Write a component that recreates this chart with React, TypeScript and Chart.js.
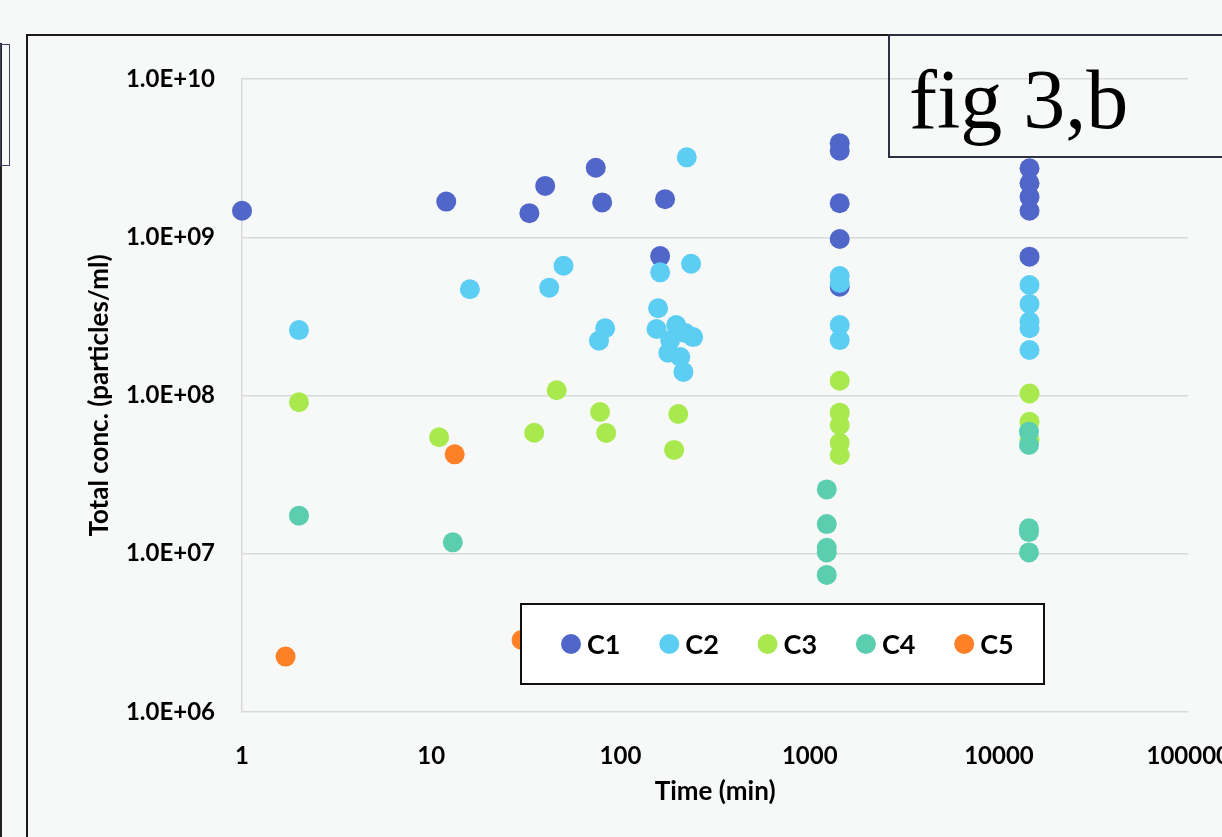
import React, { useEffect, useRef } from "react";
import { Chart, registerables } from "chart.js";

Chart.register(...registerables);

// ---------- data ----------
const seriesNames = ["C1", "C2", "C3", "C4", "C5"];
const seriesColors = ["#5067C9", "#5CCDF3", "#A8E94E", "#5CCEB0", "#FF8026"];

const c1Time = [1, 12, 33, 40, 74, 80, 162, 172, 1440, 1440, 1440, 1440, 1440, 14500, 14500, 14500, 14500, 14500];
const c1Conc = [1.47e9, 1.68e9, 1.42e9, 2.11e9, 2.75e9, 1.66e9, 7.6e8, 1.74e9, 3.93e9, 3.52e9, 1.64e9, 9.75e8, 4.87e8, 2.73e9, 2.19e9, 1.8e9, 1.47e9, 7.54e8];

const c2Time = [2, 16, 42, 50, 77, 83, 155, 158, 162, 179, 183, 197, 207, 215, 220, 224, 236, 242, 1440, 1440, 1440, 1440, 14500, 14500, 14500, 14500, 14500];
const c2Conc = [2.59e8, 4.69e8, 4.8e8, 6.61e8, 2.22e8, 2.66e8, 2.63e8, 3.56e8, 6.0e8, 1.86e8, 2.24e8, 2.79e8, 1.75e8, 1.41e8, 2.48e8, 3.2e9, 6.8e8, 2.34e8, 5.69e8, 5.14e8, 2.79e8, 2.24e8, 4.99e8, 3.79e8, 2.93e8, 2.66e8, 1.94e8];

const c3Time = [2, 11, 35, 46, 78, 84, 192, 202, 1440, 1440, 1440, 1440, 1440, 14500, 14500, 14500];
const c3Conc = [9.06e7, 5.45e7, 5.82e7, 1.08e8, 7.87e7, 5.8e7, 4.53e7, 7.64e7, 1.24e8, 7.79e7, 6.51e7, 5.03e7, 4.21e7, 1.03e8, 6.83e7, 5.24e7];

const c4Time = [2, 13, 1230, 1230, 1230, 1230, 1230, 14400, 14400, 14400, 14400, 14400];
const c4Conc = [1.74e7, 1.18e7, 2.55e7, 1.54e7, 1.09e7, 1.02e7, 7.35e6, 5.91e7, 4.87e7, 1.45e7, 1.37e7, 1.02e7];

const c5Time = [1.7, 13.3, 30];
const c5Conc = [2.24e6, 4.25e7, 2.85e6];

const xTickValues = [1, 10, 100, 1000, 10000, 100000];
const xTickLabels = ["1", "10", "100", "1000", "10000", "100000"];
const yTickValues = [1e6, 1e7, 1e8, 1e9, 1e10];
const yTickLabels = ["1.0E+06", "1.0E+07", "1.0E+08", "1.0E+09", "1.0E+10"];

const xTitle = "Time (min)";
const yTitle = "Total conc. (particles/ml)";
const figLabel = "fig 3,b";

const seriesTimes = [c1Time, c2Time, c3Time, c4Time, c5Time];
const seriesConcs = [c1Conc, c2Conc, c3Conc, c4Conc, c5Conc];

// ---------- legend plugin (box inside plot) ----------
const boxLegendPlugin = {
  id: "boxLegend",
  afterDatasetsDraw(chart: any) {
    const ctx = chart.ctx;
    const left = 521, top = 604, w = 523, h = 80;
    ctx.save();
    ctx.fillStyle = "#ffffff";
    ctx.fillRect(left, top, w, h);
    ctx.strokeStyle = "#111111";
    ctx.lineWidth = 2;
    ctx.strokeRect(left, top, w, h);
    const cy = top + 40;
    ctx.font = "bold 27px Lato";
    ctx.textBaseline = "middle";
    ctx.textAlign = "left";
    seriesNames.forEach((name, i) => {
      const cx = 571 + i * 98.3;
      ctx.beginPath();
      ctx.arc(cx, cy, 10, 0, Math.PI * 2);
      ctx.fillStyle = seriesColors[i];
      ctx.fill();
      ctx.fillStyle = "#000000";
      ctx.fillText(name, cx + 16, cy + 1);
    });
    ctx.restore();
  },
};

export default function App() {
  const canvasRef = useRef<HTMLCanvasElement | null>(null);

  useEffect(() => {
    if (!canvasRef.current) return;
    const datasets = seriesNames.map((name, i) => ({
      label: name,
      data: seriesTimes[i].map((t, j) => ({ x: t, y: seriesConcs[i][j] })),
      backgroundColor: seriesColors[i],
      borderColor: seriesColors[i],
      pointRadius: 10,
      pointHoverRadius: 10,
      pointBorderWidth: 0,
      showLine: false,
      clip: false as any,
      order: seriesNames.length - i,
    }));

    const tickFont = { family: "Lato", weight: "bold" as const, size: 24 };
    const titleFont = { family: "Lato", weight: "bold" as const, size: 26 };

    const chart = new Chart(canvasRef.current, {
      type: "scatter",
      data: { datasets },
      plugins: [boxLegendPlugin],
      options: {
        responsive: false,
        animation: false,
        events: [],
        layout: { padding: { left: 0, top: 79, right: 68, bottom: 0 } },
        plugins: {
          legend: { display: false },
          tooltip: { enabled: false },
          title: { display: false },
        },
        scales: {
          x: {
            type: "logarithmic",
            min: 1,
            max: 100000,
            afterFit: (s: any) => {
              s.height = 125;
            },
            afterBuildTicks: (s: any) => {
              s.ticks = xTickValues.map((v) => ({ value: v }));
            },
            grid: { display: false, drawTicks: false },
            border: { display: false },
            ticks: {
              font: tickFont,
              color: "#000000",
              padding: 30,
              maxRotation: 0,
              autoSkip: false,
              callback: (_v: any, i: number) => xTickLabels[i],
            },
            title: {
              display: true,
              text: xTitle,
              font: titleFont,
              color: "#000000",
              padding: { top: 0, bottom: 30 },
            },
          },
          y: {
            type: "logarithmic",
            min: 1e6,
            max: 1e10,
            afterFit: (s: any) => {
              s.width = 242;
            },
            afterBuildTicks: (s: any) => {
              s.ticks = yTickValues.map((v) => ({ value: v }));
            },
            grid: { color: "#d9d9d9", lineWidth: 1.5, drawTicks: false },
            border: { display: true, color: "#d9d9d9", width: 1.5 },
            ticks: {
              font: tickFont,
              color: "#000000",
              padding: 27,
              autoSkip: false,
              callback: (_v: any, i: number) => yTickLabels[i],
            },
            title: {
              display: true,
              text: yTitle,
              font: titleFont,
              color: "#000000",
              padding: { top: 84, bottom: 0 },
            },
          },
        },
      },
    });
    return () => chart.destroy();
  }, []);

  return (
    <div
      style={{
        position: "absolute",
        left: 0,
        top: 0,
        width: 1222,
        height: 837,
        overflow: "hidden",
        background: "#f7f9f9",
      }}
    >
      <div style={{ position: "absolute", left: 0, top: 43, width: 2, height: 800, background: "#222" }} />
      <div
        style={{
          position: "absolute",
          left: 0,
          top: 44,
          width: 10,
          height: 122,
          border: "1.5px solid #3c4260",
          boxSizing: "border-box",
        }}
      />
      <div
        style={{
          position: "absolute",
          left: 26,
          top: 34,
          width: 1300,
          height: 900,
          borderTop: "2px solid #1a1a1a",
          borderLeft: "2px solid #1a1a1a",
          boxSizing: "border-box",
        }}
      />
      <canvas ref={canvasRef} width={1260} height={837} style={{ position: "absolute", left: 0, top: 0 }} />
      <div
        style={{
          position: "absolute",
          left: 888,
          top: 34,
          width: 400,
          height: 124,
          border: "2px solid #2d3142",
          boxSizing: "border-box",
        }}
      />
      <div
        style={{
          position: "absolute",
          left: 909,
          top: 58,
          fontFamily: "'Liberation Serif', 'Times New Roman', serif",
          fontSize: 84,
          lineHeight: "84px",
          color: "#000",
          whiteSpace: "nowrap",
        }}
      >
        {figLabel}
      </div>
    </div>
  );
}
